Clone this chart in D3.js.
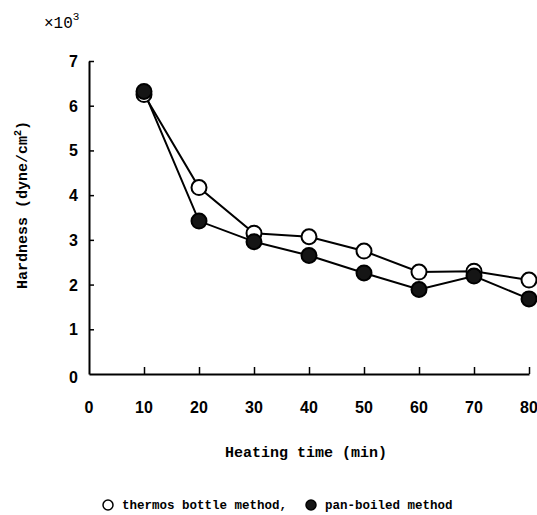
<!DOCTYPE html>
<html>
<head>
<meta charset="utf-8">
<script src="https://cdn.jsdelivr.net/npm/d3@7"></script>
<style>
  body { margin: 0; background: #fff; }
  .mono { font-family: "Liberation Mono", "DejaVu Sans Mono", monospace; }
</style>
</head>
<body>
<div id="chart"></div>
<script>
// Heating time (min)
const times = [10, 20, 30, 40, 50, 60, 70, 80];
// Hardness x10^3 dyne/cm2
const thermos = [6.25, 4.17, 3.15, 3.07, 2.75, 2.28, 2.3, 2.1];
const panBoiled = [6.32, 3.42, 2.96, 2.65, 2.26, 1.89, 2.19, 1.68];
const xTicks = [0, 10, 20, 30, 40, 50, 60, 70, 80];
const yTicks = [0, 1, 2, 3, 4, 5, 6, 7];

const width = 537, height = 515;

const svg = d3.select("#chart")
    .append("svg")
    .attr("width", width)
    .attr("height", height);

const x = d3.scaleLinear().domain([0, 80]).range([89, 529]);
const y = d3.scaleLinear().domain([0, 7]).range([374, 61]);

// Axes with inward ticks
const xAxis = svg.append("g")
    .attr("transform", `translate(0,${y(0)})`)
    .call(d3.axisTop(x).tickValues(xTicks).tickSize(7).tickSizeOuter(0).tickFormat(""));
xAxis.select(".domain").attr("stroke-width", 2);
xAxis.selectAll(".tick line").attr("stroke-width", 1.5);
xAxis.selectAll(".tick").filter(d => d === 0).select("line").remove();

const yAxis = svg.append("g")
    .attr("transform", `translate(${x(0)},0)`)
    .call(d3.axisRight(y).tickValues(yTicks).tickSize(5).tickSizeOuter(0).tickFormat(""));
yAxis.select(".domain").attr("stroke-width", 2);
yAxis.selectAll(".tick line").attr("stroke-width", 1.5);
yAxis.selectAll(".tick").filter(d => d === 0).select("line").remove();

// Tick labels
svg.append("g").selectAll("text")
  .data(xTicks)
  .enter().append("text")
    .attr("x", d => x(d))
    .attr("y", 413)
    .attr("text-anchor", "middle")
    .style("font-family", "Liberation Sans, Arial, sans-serif")
    .style("font-weight", "bold")
    .style("font-size", "16px")
    .text(d => d);

svg.append("g").selectAll("text")
  .data(yTicks)
  .enter().append("text")
    .attr("x", 78)
    .attr("y", d => (d === 0 ? y(d) + 9 : y(d) + 6))
    .attr("text-anchor", "end")
    .style("font-family", "Liberation Sans, Arial, sans-serif")
    .style("font-weight", "bold")
    .style("font-size", "16px")
    .text(d => d);

// x10^3
const mult = svg.append("text")
    .attr("class", "mono")
    .attr("x", 44)
    .attr("y", 28)
    .style("font-size", "16px");
mult.append("tspan").text("×10");
mult.append("tspan").attr("dy", -8).style("font-size", "11px").text("3");

// Lines
const line = d3.line()
    .x((d, i) => x(times[i]))
    .y(d => y(d));

svg.append("path")
    .datum(thermos)
    .attr("fill", "none")
    .attr("stroke", "#000")
    .attr("stroke-width", 2)
    .attr("d", line);

svg.append("path")
    .datum(panBoiled)
    .attr("fill", "none")
    .attr("stroke", "#000")
    .attr("stroke-width", 2)
    .attr("d", line);

// Markers
svg.append("g").selectAll("circle")
  .data(thermos)
  .enter().append("circle")
    .attr("cx", (d, i) => x(times[i]))
    .attr("cy", d => y(d))
    .attr("r", 7.5)
    .attr("fill", "#fff")
    .attr("stroke", "#000")
    .attr("stroke-width", 2);

svg.append("g").selectAll("circle")
  .data(panBoiled)
  .enter().append("circle")
    .attr("cx", (d, i) => x(times[i]))
    .attr("cy", d => y(d))
    .attr("r", 7.5)
    .attr("fill", "#151515")
    .attr("stroke", "#000")
    .attr("stroke-width", 2);

// Axis labels
svg.append("text")
    .attr("class", "mono")
    .attr("x", 306)
    .attr("y", 457)
    .attr("text-anchor", "middle")
    .style("font-size", "15px")
    .style("font-weight", "bold")
    .text("Heating time (min)");

const yl = svg.append("text")
    .attr("class", "mono")
    .attr("transform", "translate(27,205) rotate(-90)")
    .attr("text-anchor", "middle")
    .style("font-size", "15px")
    .style("font-weight", "bold");
yl.append("tspan").text("Hardness (dyne/cm");
yl.append("tspan").attr("dy", -6).style("font-size", "10px").text("2");
yl.append("tspan").attr("dy", 6).text(")");

// Legend
svg.append("circle")
    .attr("cx", 108).attr("cy", 505).attr("r", 5)
    .attr("fill", "#fff").attr("stroke", "#000").attr("stroke-width", 1.5);
svg.append("text")
    .attr("class", "mono")
    .attr("x", 122).attr("y", 509)
    .style("font-size", "12.5px").style("font-weight", "bold")
    .text("thermos bottle method,");
svg.append("circle")
    .attr("cx", 311).attr("cy", 505).attr("r", 5)
    .attr("fill", "#151515").attr("stroke", "#000").attr("stroke-width", 1.5);
svg.append("text")
    .attr("class", "mono")
    .attr("x", 325).attr("y", 509)
    .style("font-size", "12.5px").style("font-weight", "bold")
    .text("pan-boiled method");
</script>
</body>
</html>
